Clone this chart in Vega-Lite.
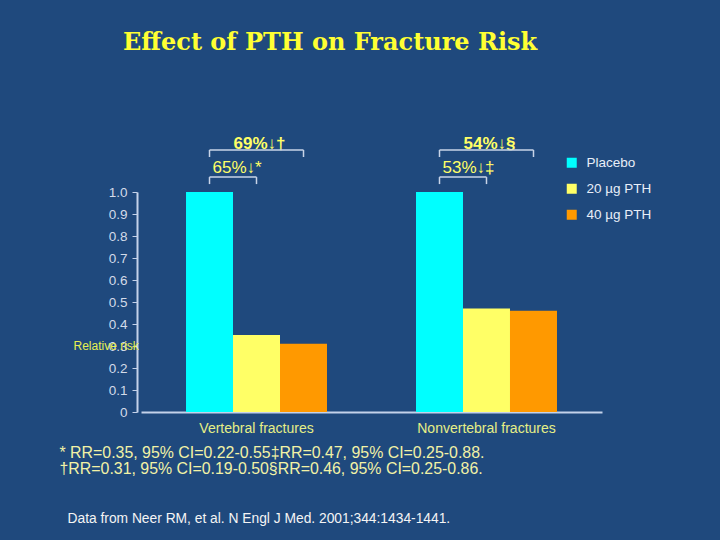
{
  "$schema": "https://vega.github.io/schema/vega-lite/v6.json",
  "width": 461,
  "height": 220,
  "autosize": "none",
  "padding": {"left": 141, "top": 192, "right": 118, "bottom": 128},
  "background": "#1f497d",
  "config": {
    "view": {"stroke": null},
    "font": "Liberation Sans"
  },
  "title": {
    "text": "Effect of PTH on Fracture Risk",
    "font": "DejaVu Serif",
    "fontSize": 24,
    "fontWeight": "bold",
    "color": "#ffff33",
    "anchor": "start",
    "frame": "group",
    "dx": -18,
    "offset": 80
  },
  "datasets": {
    "bars": [
      {"group": "Vertebral fractures", "treatment": "Placebo", "rr": 1.0},
      {"group": "Vertebral fractures", "treatment": "20 µg PTH", "rr": 0.35},
      {"group": "Vertebral fractures", "treatment": "40 µg PTH", "rr": 0.31},
      {"group": "Nonvertebral fractures", "treatment": "Placebo", "rr": 1.0},
      {"group": "Nonvertebral fractures", "treatment": "20 µg PTH", "rr": 0.47},
      {"group": "Nonvertebral fractures", "treatment": "40 µg PTH", "rr": 0.46}
    ],
    "notes": [
      {"group": "Vertebral fractures", "tier": "outer", "label": "69%↓†"},
      {"group": "Vertebral fractures", "tier": "inner", "label": "65%↓*"},
      {"group": "Nonvertebral fractures", "tier": "outer", "label": "54%↓§"},
      {"group": "Nonvertebral fractures", "tier": "inner", "label": "53%↓‡"}
    ]
  },
  "resolve": {"axis": {"y": "independent"}},
  "layer": [
    {
      "data": {"name": "bars"},
      "mark": {"type": "bar"},
      "encoding": {
        "x": {
          "field": "group",
          "type": "nominal",
          "scale": {"domain": ["Vertebral fractures", "Nonvertebral fractures"], "paddingInner": 0.387, "paddingOuter": 0.1957},
          "axis": {
            "title": [
              "* RR=0.35, 95% CI=0.22-0.55‡RR=0.47, 95% CI=0.25-0.88.",
              "†RR=0.31, 95% CI=0.19-0.50§RR=0.46, 95% CI=0.25-0.86."
            ],
            "titleFont": "Liberation Sans",
            "titleFontSize": 15.9,
            "titleFontWeight": "normal",
            "titleColor": "#f2f2a6",
            "titleAlign": "left",
            "titleAnchor": "start",
            "titleBaseline": "alphabetic",
            "titleX": -82,
            "titleY": 45,
            "titleLineHeight": 16.5,
            "labelAngle": 0,
            "labelFontSize": 14,
            "labelColor": "#e6ef86",
            "labelPadding": 9,
            "ticks": false,
            "domainColor": "#c4d2ea",
            "domainWidth": 2,
            "grid": false
          }
        },
        "xOffset": {
          "field": "treatment",
          "type": "nominal",
          "scale": {"domain": ["Placebo", "20 µg PTH", "40 µg PTH"], "paddingInner": 0, "paddingOuter": 0}
        },
        "y": {
          "field": "rr",
          "type": "quantitative",
          "scale": {"domain": [0, 1], "nice": false},
          "axis": {
            "orient": "left",
            "values": [0, 0.1, 0.2, 0.3, 0.4, 0.5, 0.6, 0.7, 0.8, 0.9, 1.0],
            "labelExpr": "datum.value == 0 ? '0' : format(datum.value, '.1f')",
            "labelFontSize": 13.5,
            "labelColor": "#d3dbe9",
            "labelPadding": 5,
            "tickSize": 5,
            "tickColor": "#c4d2ea",
            "domainColor": "#c4d2ea",
            "domainWidth": 2,
            "offset": 4,
            "grid": false,
            "title": "Relative risk",
            "titleAngle": 0,
            "titleAlign": "left",
            "titleBaseline": "middle",
            "titleX": -64,
            "titleY": 153,
            "titleFontSize": 12,
            "titleFontWeight": "normal",
            "titleColor": "#e8f050"
          }
        },
        "color": {
          "field": "treatment",
          "type": "nominal",
          "scale": {"domain": ["Placebo", "20 µg PTH", "40 µg PTH"], "range": ["#00ffff", "#ffff66", "#ff9900"]},
          "legend": {
            "title": null,
            "orient": "none",
            "legendX": 424,
            "legendY": -36,
            "padding": 0,
            "symbolType": "square",
            "symbolSize": 100,
            "symbolStrokeWidth": 0,
            "labelFontSize": 13.5,
            "labelColor": "#e8eef8",
            "labelOffset": 8,
            "rowPadding": 11
          }
        }
      }
    },
    {
      "data": {"name": "notes"},
      "transform": [{"filter": "datum.tier == 'outer'"}],
      "mark": {"type": "text", "fontSize": 17, "fontWeight": "bold", "color": "#ffff66", "baseline": "middle", "dx": 3},
      "encoding": {
        "x": {"field": "group", "type": "nominal"},
        "y": {
          "datum": 1.22,
          "type": "quantitative",
          "axis": {
            "orient": "right",
            "title": "Data from Neer RM, et al. N Engl J Med. 2001;344:1434-1441.",
            "labels": false,
            "ticks": false,
            "domain": false,
            "grid": false,
            "titleAngle": 0,
            "titleAlign": "left",
            "titleBaseline": "alphabetic",
            "titleX": -535,
            "titleY": 330,
            "titleFont": "Liberation Sans",
            "titleFontSize": 13.8,
            "titleFontWeight": "normal",
            "titleColor": "#f4f4f4"
          }
        },
        "text": {"field": "label"}
      }
    },
    {
      "data": {"name": "notes"},
      "transform": [{"filter": "datum.tier == 'inner'"}],
      "mark": {"type": "text", "fontSize": 17, "color": "#ffff66", "align": "left", "baseline": "middle", "dx": 3},
      "encoding": {
        "x": {"field": "group", "type": "nominal"},
        "xOffset": {"datum": "Placebo"},
        "y": {"datum": 1.109, "type": "quantitative", "axis": null},
        "text": {"field": "label"}
      }
    },
    {
      "data": {"name": "bars"},
      "transform": [{"filter": "datum.treatment != '20 µg PTH'"}],
      "mark": {"type": "line", "color": "#c8d4e8", "strokeWidth": 1.5},
      "encoding": {
        "x": {"field": "group", "type": "nominal"},
        "xOffset": {"field": "treatment", "type": "nominal"},
        "y": {"datum": 1.191, "type": "quantitative", "axis": null},
        "detail": {"field": "group"}
      }
    },
    {
      "data": {"name": "bars"},
      "transform": [{"filter": "datum.treatment != '20 µg PTH'"}],
      "mark": {"type": "rule", "color": "#c8d4e8", "strokeWidth": 1.5},
      "encoding": {
        "x": {"field": "group", "type": "nominal"},
        "xOffset": {"field": "treatment", "type": "nominal"},
        "y": {"datum": 1.191, "type": "quantitative", "axis": null},
        "y2": {"datum": 1.159}
      }
    },
    {
      "data": {"name": "bars"},
      "transform": [{"filter": "datum.treatment != '40 µg PTH'"}],
      "mark": {"type": "line", "color": "#c8d4e8", "strokeWidth": 1.5},
      "encoding": {
        "x": {"field": "group", "type": "nominal"},
        "xOffset": {"field": "treatment", "type": "nominal"},
        "y": {"datum": 1.068, "type": "quantitative", "axis": null},
        "detail": {"field": "group"}
      }
    },
    {
      "data": {"name": "bars"},
      "transform": [{"filter": "datum.treatment != '40 µg PTH'"}],
      "mark": {"type": "rule", "color": "#c8d4e8", "strokeWidth": 1.5},
      "encoding": {
        "x": {"field": "group", "type": "nominal"},
        "xOffset": {"field": "treatment", "type": "nominal"},
        "y": {"datum": 1.068, "type": "quantitative", "axis": null},
        "y2": {"datum": 1.036}
      }
    }
  ]
}
